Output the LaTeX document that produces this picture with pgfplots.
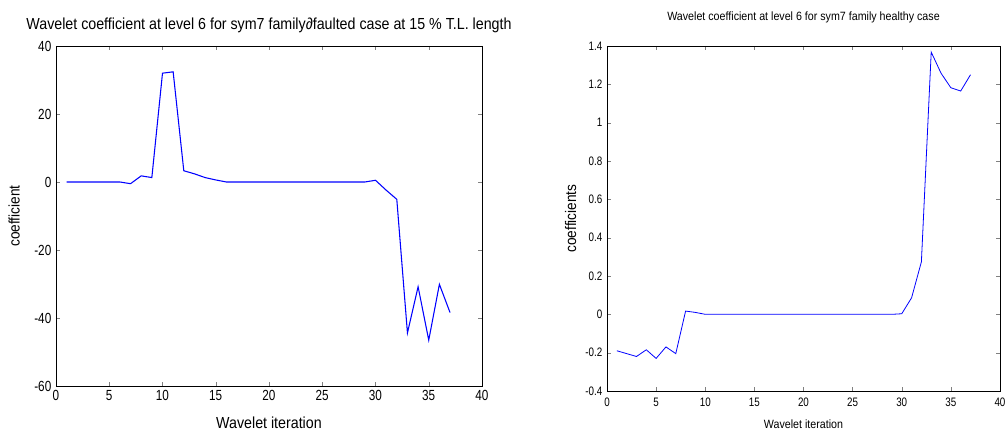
\documentclass[border=0pt]{standalone}
\usepackage{fontspec}
\setmainfont{Liberation Sans}[FakeStretch=0.8]
\newfontfamily\labelfont{Liberation Sans}[FakeStretch=0.89]
\usepackage{pgfplots}
\pgfplotsset{compat=1.18}

\definecolor{matblue}{RGB}{0,0,255}

% 1 px of the reference = 0.75pt
\pgfplotsset{
  matstyle/.style={
    scale only axis,
    anchor=south west,
    xmin=0, xmax=40,
    xtick={0,5,...,40},
    tick align=inside,
    tick pos=both,
    major tick length=3pt,
    axis line style={black, line width=0.6pt},
    /pgf/number format/assume math mode=true,
  },
}

\begin{document}
\begin{tikzpicture}
\useasboundingbox (0pt,0pt) rectangle (756pt,325.5pt);

% left: faulted case
\begin{axis}[
  matstyle,
  at={(42pt,36pt)},
  width=319.5pt, height=255pt,
  ymin=-60, ymax=40,
  ytick={-60,-40,-20,0,20,40},
  tick label style={font=\fontsize{11}{11}\selectfont},
  title={Wavelet coefficient at level 6 for sym7 family∂faulted case at 15 \% T.L. length},
  title style={font=\labelfont\fontsize{12}{12}\selectfont},
  xlabel={Wavelet iteration},
  xlabel style={font=\labelfont\fontsize{12}{12}\selectfont, yshift=-5pt},
  ylabel={coefficient},
  ylabel style={font=\labelfont\fontsize{11.5}{11.5}\selectfont, yshift=4pt},
]
\addplot[matblue, line width=0.8pt] coordinates {
  (1,0) (2,0) (3,0) (4,0) (5,0) (6,0) (7,-0.5) (8,1.8) (9,1.3)
  (10,32) (11,32.4) (12,3.3) (13,2.4) (14,1.3) (15,0.6) (16,0)
  (17,0) (18,0) (19,0) (20,0) (21,0) (22,0) (23,0) (24,0) (25,0)
  (26,0) (27,0) (28,0) (29,0) (30,0.5) (31,-2.4) (32,-5.1)
  (33,-44.4) (34,-30.8) (35,-46.5) (36,-30.1) (37,-38.4)
};
\end{axis}

% right: healthy case
\begin{axis}[
  matstyle,
  at={(455.25pt,32.25pt)},
  width=294.75pt, height=258.75pt,
  ymin=-0.4, ymax=1.4,
  ytick={-0.4,-0.2,0,0.2,0.4,0.6,0.8,1,1.2,1.4},
  tick label style={font=\fontsize{9.2}{9.2}\selectfont},
  xticklabel style={yshift=-2pt},
  title={Wavelet coefficient at level 6 for sym7 family healthy case},
  title style={font=\labelfont\fontsize{9}{9}\selectfont, yshift=8pt},
  xlabel={Wavelet iteration},
  xlabel style={font=\labelfont\fontsize{9}{9}\selectfont, yshift=-3pt},
  ylabel={coefficients},
  ylabel style={font=\labelfont\fontsize{11.5}{11.5}\selectfont},
]
\addplot[matblue, line width=0.6pt] coordinates {
  (1,-0.19) (2,-0.205) (3,-0.22) (4,-0.185) (5,-0.23) (6,-0.17)
  (7,-0.205) (8,0.017) (9,0.01) (10,0) (11,0) (12,0) (13,0) (14,0)
  (15,0) (16,0) (17,0) (18,0) (19,0) (20,0) (21,0) (22,0) (23,0)
  (24,0) (25,0) (26,0) (27,0) (28,0) (29,0) (30,0.003) (31,0.086)
  (32,0.274) (33,1.368) (34,1.258) (35,1.182) (36,1.165) (37,1.25)
};
\end{axis}
\end{tikzpicture}
\end{document}
